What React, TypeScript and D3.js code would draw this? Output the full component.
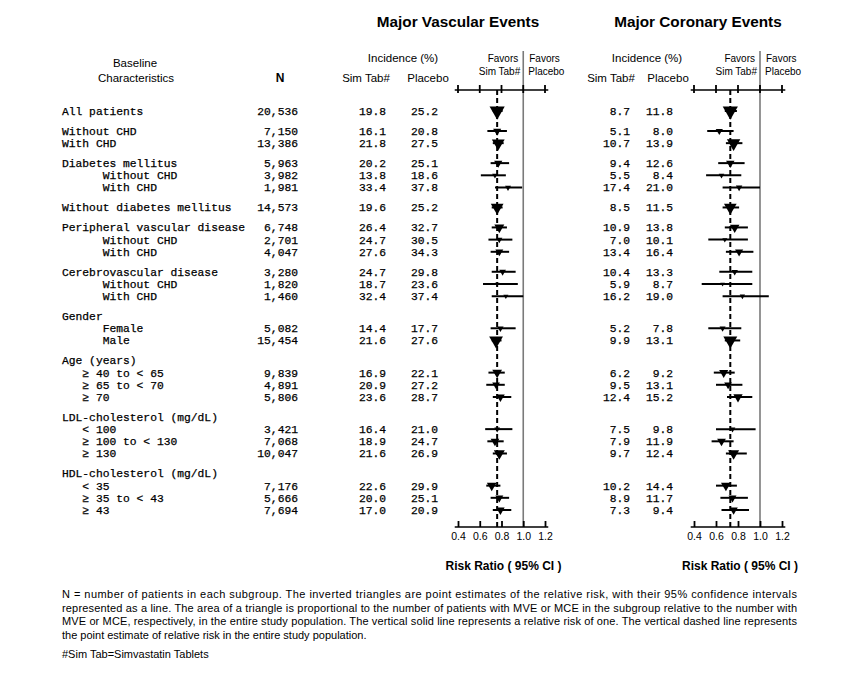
import { useRef, useEffect } from 'react';
import { select, scaleLinear, axisBottom, format, symbol, symbolTriangle } from 'd3';

// subgroup labels (leading spaces are part of the monospace layout)
const labels = [
  'All patients',
  'Without CHD',
  'With CHD',
  'Diabetes mellitus',
  '      Without CHD',
  '      With CHD',
  'Without diabetes mellitus',
  'Peripheral vascular disease',
  '      Without CHD',
  '      With CHD',
  'Cerebrovascular disease',
  '      Without CHD',
  '      With CHD',
  'Gender',
  '      Female',
  '      Male',
  'Age (years)',
  '   \u2265 40 to < 65',
  '   \u2265 65 to < 70',
  '   \u2265 70',
  'LDL-cholesterol (mg/dL)',
  '   < 100',
  '   \u2265 100 to < 130',
  '   \u2265 130',
  'HDL-cholesterol (mg/dL)',
  '   < 35',
  '   \u2265 35 to < 43',
  '   \u2265 43',
];
const groupIds = [0, 1, 1, 2, 2, 2, 3, 4, 4, 4, 5, 5, 5, 6, 6, 6, 7, 7, 7, 7, 8, 8, 8, 8, 9, 9, 9, 9];

const nValues = [20536, 7150, 13386, 5963, 3982, 1981, 14573, 6748, 2701, 4047, 3280, 1820, 1460,
  null, 5082, 15454, null, 9839, 4891, 5806, null, 3421, 7068, 10047, null, 7176, 5666, 7694];

// incidence (%) - major vascular events
const mveSim = [19.8, 16.1, 21.8, 20.2, 13.8, 33.4, 19.6, 26.4, 24.7, 27.6, 24.7, 18.7, 32.4,
  null, 14.4, 21.6, null, 16.9, 20.9, 23.6, null, 16.4, 18.9, 21.6, null, 22.6, 20.0, 17.0];
const mvePlacebo = [25.2, 20.8, 27.5, 25.1, 18.6, 37.8, 25.2, 32.7, 30.5, 34.3, 29.8, 23.6, 37.4,
  null, 17.7, 27.6, null, 22.1, 27.2, 28.7, null, 21.0, 24.7, 26.9, null, 29.9, 25.1, 20.9];

// incidence (%) - major coronary events
const mceSim = [8.7, 5.1, 10.7, 9.4, 5.5, 17.4, 8.5, 10.9, 7.0, 13.4, 10.4, 5.9, 16.2,
  null, 5.2, 9.9, null, 6.2, 9.5, 12.4, null, 7.5, 7.9, 9.7, null, 10.2, 8.9, 7.3];
const mcePlacebo = [11.8, 8.0, 13.9, 12.6, 8.4, 21.0, 11.5, 13.8, 10.1, 16.4, 13.3, 8.7, 19.0,
  null, 7.8, 13.1, null, 9.2, 13.1, 15.2, null, 9.8, 11.9, 12.4, null, 14.4, 11.7, 9.4];

// risk ratios and 95% CI
const mveRR = [0.76, 0.76, 0.77, 0.77, 0.74, 0.86, 0.76, 0.78, 0.78, 0.78, 0.81, 0.76, 0.84,
  null, 0.79, 0.75, null, 0.76, 0.75, 0.79, null, 0.76, 0.74, 0.78, null, 0.71, 0.78, 0.79];
const mveLo = [0.72, 0.67, 0.72, 0.70, 0.61, 0.74, 0.71, 0.71, 0.68, 0.70, 0.71, 0.63, 0.71,
  null, 0.70, 0.71, null, 0.68, 0.66, 0.72, null, 0.65, 0.67, 0.72, null, 0.66, 0.70, 0.72];
const mveHi = [0.81, 0.85, 0.82, 0.87, 0.84, 0.99, 0.81, 0.85, 0.90, 0.87, 0.93, 0.95, 1.0,
  null, 0.93, 0.80, null, 0.83, 0.83, 0.89, null, 0.90, 0.82, 0.85, null, 0.79, 0.87, 0.89];

const mceRR = [0.73, 0.63, 0.76, 0.73, 0.65, 0.81, 0.73, 0.77, 0.68, 0.81, 0.77, 0.66, 0.84,
  null, 0.66, 0.73, null, 0.67, 0.71, 0.80, null, 0.75, 0.65, 0.76, null, 0.69, 0.75, 0.76];
const mceLo = [0.68, 0.52, 0.69, 0.62, 0.51, 0.66, 0.66, 0.68, 0.53, 0.69, 0.63, 0.47, 0.66,
  null, 0.53, 0.68, null, 0.58, 0.60, 0.70, null, 0.60, 0.56, 0.69, null, 0.60, 0.64, 0.65];
const mceHi = [0.79, 0.76, 0.84, 0.86, 0.83, 1.0, 0.81, 0.89, 0.89, 0.94, 0.93, 0.93, 1.08,
  null, 0.83, 0.82, null, 0.77, 0.84, 0.93, null, 0.96, 0.76, 0.88, null, 0.79, 0.89, 0.90];

const overallMve = 0.76;
const overallMce = 0.73;
const tickValues = [0.4, 0.6, 0.8, 1.0, 1.2];

const footnote = [
  'N = number of patients in each subgroup. The inverted triangles are point estimates of the relative risk, with their 95% confidence intervals',
  'represented as a line. The area of a triangle is proportional to the number of patients with MVE or MCE in the subgroup relative to the number with',
  'MVE or MCE, respectively, in the entire study population. The vertical solid line represents a relative risk of one. The vertical dashed line represents',
  'the point estimate of relative risk in the entire study population.',
];

const MONO = '"Liberation Mono", "DejaVu Sans Mono", monospace';
const SANS = '"Liberation Sans", Arial, sans-serif';

const App = () => {
  const svgRef = useRef<SVGSVGElement | null>(null);

  useEffect(() => {
    const svg = select(svgRef.current);
    svg.selectAll('*').remove();

    const gapExtra = 0.64;
    const units = labels.map((_, i) => i + groupIds[i] * gapExtra);
    const yScale = scaleLinear().domain([0, units[units.length - 1]]).range([111, 510]);
    const rowY = (i: number) => yScale(units[i]);

    const topAxisY = 90;
    const bottomAxisY = 527;
    const fmtN = format(',');
    const fmt1 = format('.1f');

    // titles
    const titles = [
      { text: 'Major Vascular Events', x: 458 },
      { text: 'Major Coronary Events', x: 698 },
    ];
    svg.selectAll('.title').data(titles).join('text')
      .attr('class', 'title')
      .attr('x', (d) => d.x).attr('y', 27)
      .attr('text-anchor', 'middle')
      .attr('font-family', SANS).attr('font-weight', 'bold').attr('font-size', 15.3)
      .text((d) => d.text);

    // column headers
    const headers = [
      { text: 'Baseline', x: 135, y: 67 },
      { text: 'Characteristics', x: 136, y: 82 },
      { text: 'Incidence (%)', x: 403, y: 62 },
      { text: 'Sim Tab#', x: 366, y: 82 },
      { text: 'Placebo', x: 428, y: 82 },
      { text: 'Incidence (%)', x: 647, y: 62 },
      { text: 'Sim Tab#', x: 611, y: 82 },
      { text: 'Placebo', x: 668, y: 82 },
    ];
    svg.selectAll('.hdr').data(headers).join('text')
      .attr('class', 'hdr')
      .attr('x', (d) => d.x).attr('y', (d) => d.y)
      .attr('text-anchor', 'middle')
      .attr('font-family', SANS).attr('font-size', 11.5)
      .text((d) => d.text);
    svg.append('text')
      .attr('x', 280).attr('y', 82).attr('text-anchor', 'middle')
      .attr('font-family', SANS).attr('font-weight', 'bold').attr('font-size', 12)
      .text('N');

    // table text
    const rows = svg.append('g')
      .attr('font-family', MONO).attr('font-size', 11.3)
      .attr('fill', '#000').attr('stroke', '#000').attr('stroke-width', 0.25);
    rows.selectAll('.lbl').data(labels).join('text')
      .attr('class', 'lbl')
      .attr('x', 62).attr('y', (_, i) => rowY(i)).attr('dy', '0.35em')
      .style('white-space', 'pre')
      .text((d) => d);

    const numCols = [
      { values: nValues, x: 298, f: fmtN },
      { values: mveSim, x: 386, f: fmt1 },
      { values: mvePlacebo, x: 438, f: fmt1 },
      { values: mceSim, x: 630, f: fmt1 },
      { values: mcePlacebo, x: 673, f: fmt1 },
    ];
    numCols.forEach((col) => {
      rows.append('g').selectAll('text')
        .data(col.values.map((v, i) => ({ v, i })).filter((d) => d.v !== null))
        .join('text')
        .attr('x', col.x).attr('y', (d) => rowY(d.i)).attr('dy', '0.35em')
        .attr('text-anchor', 'end')
        .text((d) => col.f(d.v as number));
    });

    // forest panels
    const panels = [
      { x: scaleLinear().domain([0.4, 1.2]).range([458, 545]), rr: mveRR, lo: mveLo, hi: mveHi,
        sim: mveSim, pla: mvePlacebo, overall: overallMve },
      { x: scaleLinear().domain([0.4, 1.2]).range([694, 782]), rr: mceRR, lo: mceLo, hi: mceHi,
        sim: mceSim, pla: mcePlacebo, overall: overallMce },
    ];

    panels.forEach((p) => {
      const g = svg.append('g');
      const x = p.x;

      // favors text
      const fav = g.append('g').attr('font-family', SANS).attr('font-size', 10);
      fav.append('text').attr('x', x(1) - 5).attr('y', 62).attr('text-anchor', 'end').text('Favors');
      fav.append('text').attr('x', x(1) - 3).attr('y', 75).attr('text-anchor', 'end').text('Sim Tab#');
      fav.append('text').attr('x', x(1) + 6).attr('y', 62).text('Favors');
      fav.append('text').attr('x', x(1) + 5).attr('y', 75).text('Placebo');

      // reference lines
      g.append('line')
        .attr('x1', x(1)).attr('x2', x(1)).attr('y1', 51).attr('y2', bottomAxisY)
        .attr('stroke', '#7a7a7a').attr('stroke-width', 1.6);
      g.append('line')
        .attr('x1', x(p.overall)).attr('x2', x(p.overall)).attr('y1', topAxisY).attr('y2', bottomAxisY)
        .attr('stroke', '#000').attr('stroke-width', 2).attr('stroke-dasharray', '5,3');

      // top axis
      g.append('line')
        .attr('x1', x(0.37)).attr('x2', x(1.23)).attr('y1', topAxisY).attr('y2', topAxisY)
        .attr('stroke', '#000').attr('stroke-width', 1.5);
      g.selectAll('.ttick').data(tickValues).join('line')
        .attr('class', 'ttick')
        .attr('x1', (d) => x(d)).attr('x2', (d) => x(d))
        .attr('y1', topAxisY - 5).attr('y2', topAxisY + 3)
        .attr('stroke', '#000').attr('stroke-width', 1.8);

      // bottom axis
      const axisG = g.append('g').attr('transform', `translate(0,${bottomAxisY})`)
        .call(axisBottom(x).tickValues(tickValues).tickFormat(format('.1f'))
          .tickSizeInner(-6).tickSizeOuter(0).tickPadding(6));
      axisG.select('.domain').remove();
      axisG.selectAll('.tick line').attr('stroke', '#000').attr('stroke-width', 1.8);
      axisG.selectAll('.tick text')
        .attr('font-family', SANS).attr('font-size', 10.5).attr('fill', '#000');
      axisG.append('line')
        .attr('x1', x(0.37)).attr('x2', x(1.23))
        .attr('stroke', '#000').attr('stroke-width', 1.5);

      g.append('text')
        .attr('x', (x(0.4) + x(1.2)) / 2 + 2).attr('y', 570).attr('text-anchor', 'middle')
        .attr('font-family', SANS).attr('font-weight', 'bold').attr('font-size', 12)
        .text('Risk Ratio ( 95% CI )');

      const items = p.rr.map((rr, i) => ({
        i, rr, lo: p.lo[i], hi: p.hi[i],
        events: nValues[i] === null ? 0 : (nValues[i] as number) * ((p.sim[i] as number) + (p.pla[i] as number)) / 200,
      })).filter((d) => d.rr !== null);
      const totalEvents = items[0].events;

      g.selectAll('.ci').data(items).join('line')
        .attr('class', 'ci')
        .attr('x1', (d) => x(d.lo as number)).attr('x2', (d) => x(d.hi as number))
        .attr('y1', (d) => rowY(d.i)).attr('y2', (d) => rowY(d.i))
        .attr('stroke', '#000').attr('stroke-width', 2);

      const tri = symbol().type(symbolTriangle);
      g.selectAll('.pt').data(items).join('path')
        .attr('class', 'pt')
        .attr('d', (d) => tri.size(Math.max(9, 100 * d.events / totalEvents))())
        .attr('transform', (d) => `translate(${x(d.rr as number)},${rowY(d.i)}) rotate(180)`)
        .attr('fill', '#000');
    });

    // footnote
    const foot = svg.append('g').attr('font-family', '"Liberation Sans Narrow", ' + SANS).attr('font-size', 11);
    foot.selectAll('text').data(footnote).join('text')
      .attr('x', 62).attr('y', (_, i) => 598 + i * 13.5)
      .attr('textLength', (_, i) => (i < footnote.length - 1 ? 735 : null))
      .attr('lengthAdjust', 'spacing')
      .text((d) => d);
    foot.append('text').attr('x', 62).attr('y', 658).text('#Sim Tab=Simvastatin Tablets');
  }, []);

  return (
    <svg ref={svgRef} width={843} height={675}
      style={{ position: 'absolute', left: 0, top: 0, background: '#fff' }} />
  );
};

export default App;
